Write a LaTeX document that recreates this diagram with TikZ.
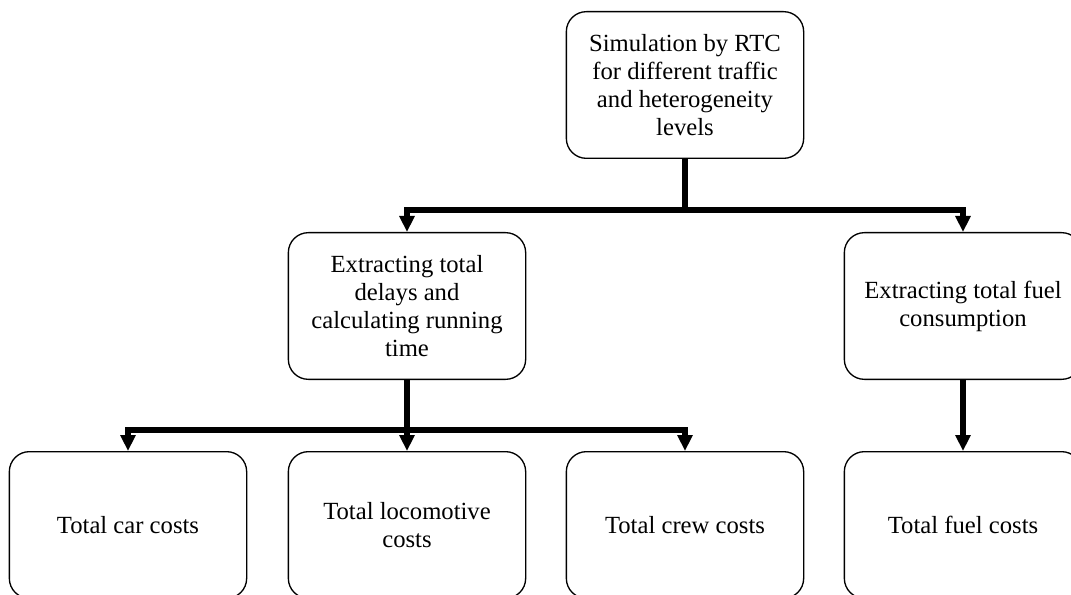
\documentclass[tikz,border=0pt]{standalone}
\usepackage{fontspec}
\setmainfont{Liberation Serif}
\usetikzlibrary{arrows.meta}

\tikzset{every picture/.style={line width=0.75pt}}
\tikzset{
  costbox/.style={draw, line width=1pt, rounded corners=15pt, align=center,
    minimum width=178pt, minimum height=110pt, inner sep=0.75pt,
    font=\fontsize{18.5}{21}\selectfont},
  busline/.style={line width=3.9pt, miter limit=10},
  busarrow/.style={busline, -{Triangle[length=12pt,width=11pt]}}
}

\begin{document}
\begin{tikzpicture}[x=0.75pt,y=0.75pt,yscale=-1,xscale=1]
\useasboundingbox (0,0) rectangle (1071,595);

%Top box
\node [costbox] (sim) at (685,85) {Simulation by RTC\\for different traffic\\and heterogeneity\\levels};

%Middle boxes
\node [costbox] (delay) at (407,306) {Extracting total\\delays and\\calculating running\\time};
\node [costbox] (fuel) at (963,306) {Extracting total fuel\\consumption};

%Bottom boxes
\node [costbox] (car) at (128,525) {Total car costs};
\node [costbox] (loco) at (407,525) {Total locomotive\\costs};
\node [costbox] (crew) at (685,525) {Total crew costs};
\node [costbox] (fuelcost) at (963,525) {Total fuel costs};

%Junctions
\coordinate (j1) at (685,210);
\coordinate (j2) at (407,430);

%Connectors
\draw [busline] (sim.south) -- (j1);
\draw [busarrow] (j1) -| (delay.north);
\draw [busarrow] (j1) -| (fuel.north);

\draw [busline] (delay.south) -- (j2);
\draw [busarrow] (j2) -| (car.north);
\draw [busarrow] (j2) -- (loco.north);
\draw [busarrow] (j2) -| (crew.north);

\draw [busarrow] (fuel.south) -- (fuelcost.north);

\end{tikzpicture}
\end{document}
